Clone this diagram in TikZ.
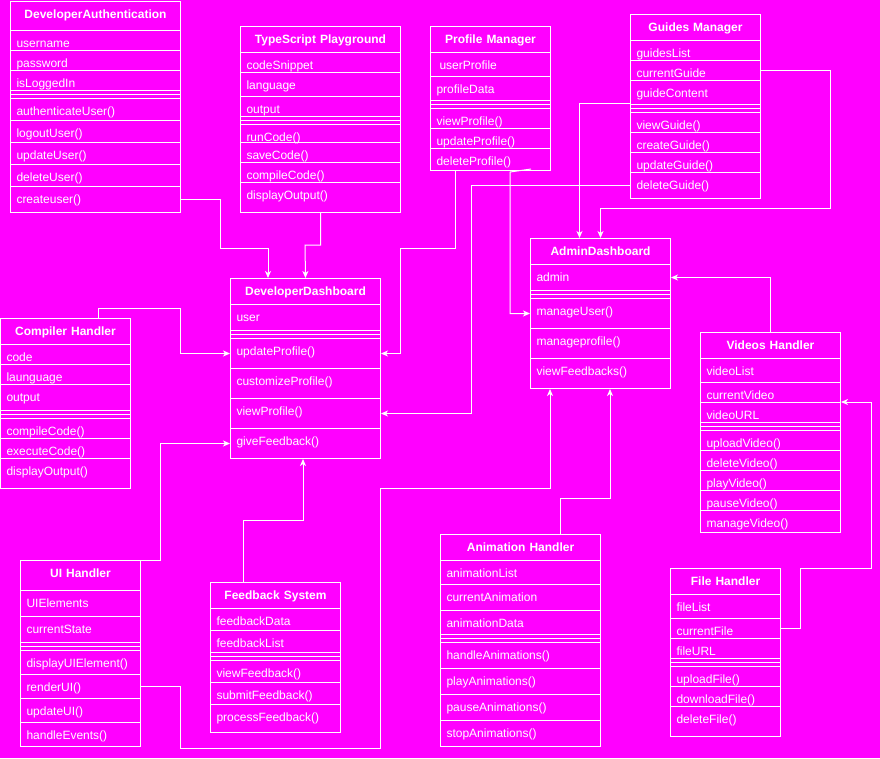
\documentclass[tikz,border=0pt]{standalone}
\usepackage{fontspec}
\setmainfont{Liberation Sans}
\usetikzlibrary{arrows.meta, calc}
\definecolor{umlpink}{RGB}{255,0,255}

\begin{document}
\begin{tikzpicture}[x=1pt, y=-1pt, >={Stealth[length=7pt, width=6pt, inset=2pt]},
  every node/.style={font=\fontsize{12}{14}\selectfont, text=white},
  classhead/.style={draw=white, line width=1pt, anchor=north west, inner xsep=6pt, inner ysep=0pt, text height=17pt, text depth=9pt, align=center, font=\fontsize{12}{14}\selectfont\bfseries},
  classrow/.style={draw=white, line width=1pt, anchor=north west, inner xsep=6pt, inner ysep=0pt, text height=17pt, align=left},
  classsep/.style={draw=white, line width=1pt, anchor=north west, inner sep=0pt, minimum height=8pt},
  link/.style={draw=white, line width=1pt}]
  \fill[umlpink] (0,0) rectangle (880,758);
  \useasboundingbox (0,0) rectangle (880,758);

  % DeveloperAuthentication
  \node[classhead, text width=158pt, text depth=12pt] (da) at (10,1) {DeveloperAuthentication};
  \foreach \t/\y/\d [count=\i] in {username/30/3pt, password/50/3pt, isLoggedIn/70/3pt, authenticateUser()/98/5pt, logoutUser()/120/5pt, updateUser()/142/5pt, deleteUser()/164/5pt, createuser()/186/9pt}
    \node[classrow, text width=158pt, text depth=\d] (da-\i) at (10,\y) {\t};
  \node[classsep, minimum width=170pt] (da-sep) at (10,90) {};
  \draw[link] (da-sep.west) -- (da-sep.east);

  % TypeScript Playground
  \node[classhead, text width=148pt] (tp) at (240,26) {TypeScript Playground};
  \foreach \t/\y/\d [count=\i] in {codeSnippet/52/3pt, language/72/7pt, output/96/3pt, runCode()/124/1pt, saveCode()/142/3pt, compileCode()/162/3pt, displayOutput()/182/13pt}
    \node[classrow, text width=148pt, text depth=\d] (tp-\i) at (240,\y) {\t};
  \node[classsep, minimum width=160pt] (tp-sep) at (240,116) {};
  \draw[link] (tp-sep.west) -- (tp-sep.east);

  % Profile Manager
  \node[classhead, text width=108pt] (pm) at (430,26) {Profile Manager};
  \foreach \t/\y/\d [count=\i] in {\hspace*{3pt}userProfile/52/7pt, profileData/76/7pt, viewProfile()/108/3pt, updateProfile()/128/3pt, deleteProfile()/148/5pt}
    \node[classrow, text width=108pt, text depth=\d] (pm-\i) at (430,\y) {\t};
  \node[classsep, minimum width=120pt] (pm-sep) at (430,100) {};
  \draw[link] (pm-sep.west) -- (pm-sep.east);

  % Guides Manager
  \node[classhead, text width=118pt] (gm) at (630,14) {Guides Manager};
  \foreach \t/\y/\d [count=\i] in {guidesList/40/3pt, currentGuide/60/3pt, guideContent/80/7pt, viewGuide()/112/3pt, createGuide()/132/3pt, updateGuide()/152/3pt, deleteGuide()/172/9pt}
    \node[classrow, text width=118pt, text depth=\d] (gm-\i) at (630,\y) {\t};
  \node[classsep, minimum width=130pt] (gm-sep) at (630,104) {};
  \draw[link] (gm-sep.west) -- (gm-sep.east);

  % AdminDashboard
  \node[classhead, text width=128pt] (ad) at (530,238) {AdminDashboard};
  \foreach \t/\y/\d [count=\i] in {admin/264/9pt, manageUser()/298/13pt, manageprofile()/328/13pt, viewFeedbacks()/358/13pt}
    \node[classrow, text width=128pt, text depth=\d] (ad-\i) at (530,\y) {\t};
  \node[classsep, minimum width=140pt] (ad-sep) at (530,290) {};
  \draw[link] (ad-sep.west) -- (ad-sep.east);

  % Videos Handler
  \node[classhead, text width=128pt] (vh) at (700,332) {Videos Handler};
  \foreach \t/\y/\d [count=\i] in {videoList/358/7pt, currentVideo/382/3pt, videoURL/402/3pt, uploadVideo()/430/3pt, deleteVideo()/450/3pt, playVideo()/470/3pt, pauseVideo()/490/3pt, manageVideo()/510/5pt}
    \node[classrow, text width=128pt, text depth=\d] (vh-\i) at (700,\y) {\t};
  \node[classsep, minimum width=140pt] (vh-sep) at (700,422) {};
  \draw[link] (vh-sep.west) -- (vh-sep.east);

  % DeveloperDashboard
  \node[classhead, text width=138pt] (dd) at (230,278) {DeveloperDashboard};
  \foreach \t/\y/\d [count=\i] in {user/304/9pt, updateProfile()/338/13pt, customizeProfile()/368/13pt, viewProfile()/398/13pt, giveFeedback()/428/13pt}
    \node[classrow, text width=138pt, text depth=\d] (dd-\i) at (230,\y) {\t};
  \node[classsep, minimum width=150pt] (dd-sep) at (230,330) {};
  \draw[link] (dd-sep.west) -- (dd-sep.east);

  % Compiler Handler
  \node[classhead, text width=118pt] (ch) at (0,318) {Compiler Handler};
  \foreach \t/\y/\d [count=\i] in {code/344/3pt, launguage/364/3pt, output/384/9pt, compileCode()/418/3pt, executeCode()/438/3pt, displayOutput()/458/13pt}
    \node[classrow, text width=118pt, text depth=\d] (ch-\i) at (0,\y) {\t};
  \node[classsep, minimum width=130pt] (ch-sep) at (0,410) {};
  \draw[link] (ch-sep.west) -- (ch-sep.east);

  % UI Handler
  \node[classhead, text width=108pt, text depth=13pt] (ui) at (20,560) {UI Handler};
  \foreach \t/\y/\d [count=\i] in {UIElements/590/9pt, currentState/616/9pt, displayUIElement()/650/7pt, renderUI()/674/7pt, updateUI()/698/7pt, handleEvents()/722/7pt}
    \node[classrow, text width=108pt, text depth=\d] (ui-\i) at (20,\y) {\t};
  \node[classsep, minimum width=120pt] (ui-sep) at (20,642) {};
  \draw[link] (ui-sep.west) -- (ui-sep.east);

  % Feedback System
  \node[classhead, text width=118pt] (fs) at (210,582) {Feedback System};
  \foreach \t/\y/\d [count=\i] in {feedbackData/608/5pt, feedbackList/630/5pt, viewFeedback()/660/5pt, submitFeedback()/682/5pt, processFeedback()/704/11pt}
    \node[classrow, text width=118pt, text depth=\d] (fs-\i) at (210,\y) {\t};
  \node[classsep, minimum width=130pt] (fs-sep) at (210,652) {};
  \draw[link] (fs-sep.west) -- (fs-sep.east);

  % Animation Handler
  \node[classhead, text width=148pt] (ah) at (440,534) {Animation Handler};
  \foreach \t/\y/\d [count=\i] in {animationList/560/7pt, currentAnimation/584/9pt, animationData/610/7pt, handleAnimations()/642/9pt, playAnimations()/668/9pt, pauseAnimations()/694/9pt, stopAnimations()/720/9pt}
    \node[classrow, text width=148pt, text depth=\d] (ah-\i) at (440,\y) {\t};
  \node[classsep, minimum width=160pt] (ah-sep) at (440,634) {};
  \draw[link] (ah-sep.west) -- (ah-sep.east);

  % File Handler
  \node[classhead, text width=98pt] (fh) at (670,568) {File Handler};
  \foreach \t/\y/\d [count=\i] in {fileList/594/7pt, currentFile/618/3pt, fileURL/638/3pt, uploadFile()/666/3pt, downloadFile()/686/3pt, deleteFile()/706/13pt}
    \node[classrow, text width=98pt, text depth=\d] (fh-\i) at (670,\y) {\t};
  \node[classsep, minimum width=110pt] (fh-sep) at (670,658) {};
  \draw[link] (fh-sep.west) -- (fh-sep.east);

  % connectors
  \draw[link, ->] (da-8.east) -| (220,248) -| ($(dd.north west)+(38,0)$);
  \draw[link, ->] (tp-7.south) |- (305,245) -- (dd.north);
  \draw[link, ->] ($(pm-5.south west)+(25,0)$) |- (400,248) |- (dd-2.east);
  \draw[link, ->] ($(pm-5.south east)+(-20,-2)$) -- (510,172) |- (ad-2.west);
  \draw[link, ->] (gm-7.west) -| ($(dd-4.east)+(90,0)$) -- (dd-4.east);
  \draw[link, ->] ($(gm-3.south west)+(0,-2)$) -| ($(ad.north)+(-21,0)$);
  \draw[link, ->] (gm-2.east) -| (830,208) -| (ad.north);
  \draw[link, ->] (vh.north) |- (ad-1.east);
  \draw[link, ->] (fh-2.east) -| (800,568) -| ($(vh-3.north east)+(30,0)$) -- (vh-3.north east);
  \draw[link, ->] ($(ah.north)+(40,0)$) |- (610,498) -- ($(ad-4.south west)+(80,0)$);
  \draw[link, ->] (ui-4.east) -| (180,748) -| (380,488) -| ($(ad-4.south west)+(20,0)$);
  \draw[link, ->] ($(fs.north west)+(33,0)$) |- (303,520) -- ($(dd-5.south west)+(73,0)$);
  \draw[link, ->] (ui.north east) -| ($(dd-5.west)+(-70,0)$) -- (dd-5.west);
  \draw[link, ->] ($(ch.north west)+(98,0)$) |- (180,308) |- (dd-2.west);
\end{tikzpicture}
\end{document}
